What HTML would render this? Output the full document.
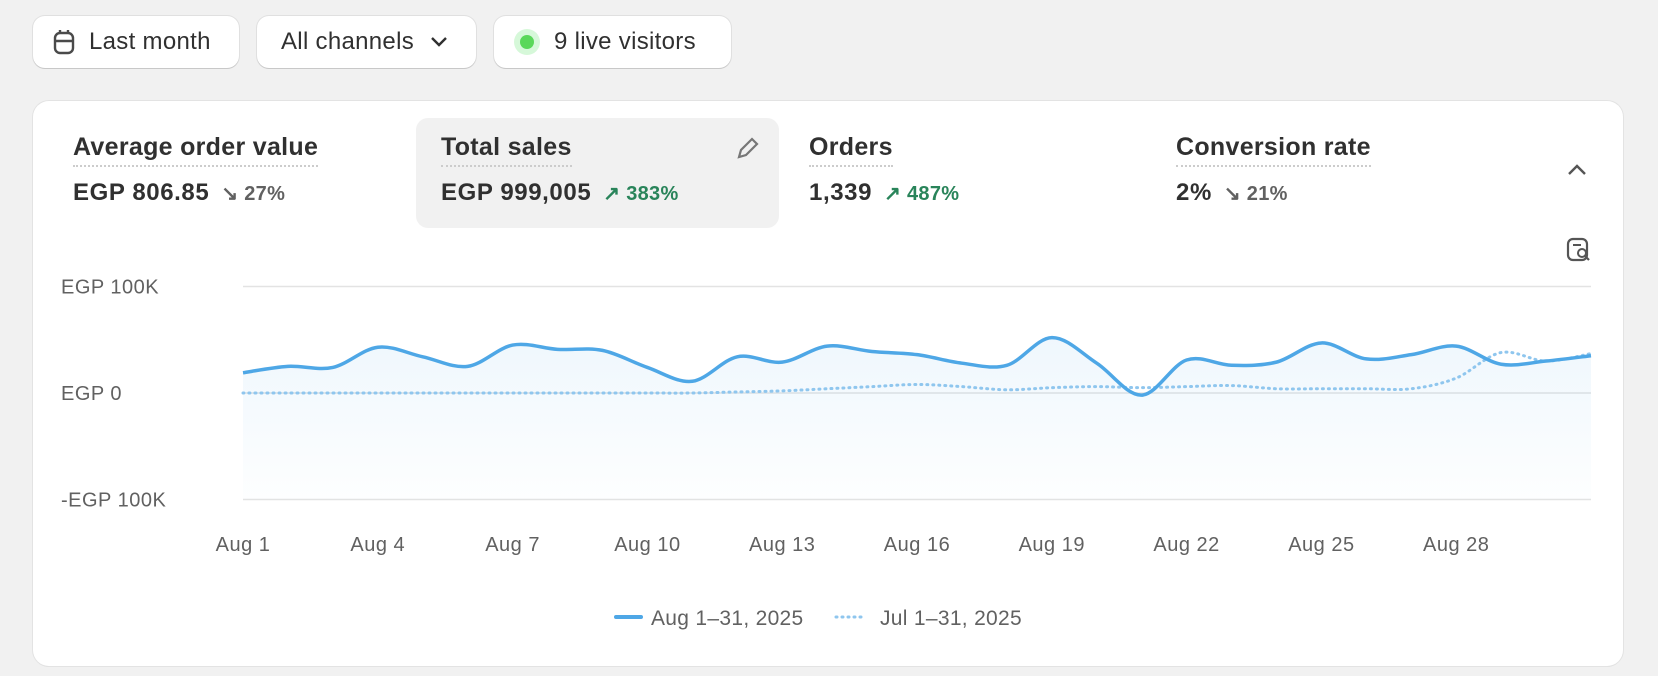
<!DOCTYPE html>
<html><head><meta charset="utf-8">
<style>
body{margin:0;width:1658px;height:676px;background:#f1f1f1;font-family:"Liberation Sans",sans-serif;color:#303030;position:relative;overflow:hidden}
.btn{position:absolute;top:16px;height:52px;background:#fff;border-radius:12px;box-shadow:0 1px 0 #c8c8c8,0 0 0 1px #e0e0e0;display:flex;align-items:center;font-size:24px;letter-spacing:0.3px;box-sizing:border-box;padding:0 20px}
.card{position:absolute;left:33px;top:101px;width:1590px;height:565px;background:#fff;border-radius:16px;box-shadow:0 0 0 1px #e3e3e3,0 1px 0 #d0d0d0}
.m{position:absolute}
.mt{font-size:25px;font-weight:bold;letter-spacing:0.3px;color:#303030;border-bottom:2px dotted #ccc;padding-bottom:3px;display:inline-block}
.mv{font-size:24px;font-weight:bold;letter-spacing:0.6px;margin-top:12px}
.mv span{font-size:20px;font-weight:bold;margin-left:12px;letter-spacing:0.3px}
.dn{color:#616161}.up{color:#29845a}
</style></head><body>
<div class="btn" style="left:33px;width:206px">
<svg width="22" height="26" viewBox="0 0 22 26" style="margin-right:14px"><rect x="2" y="4" width="18" height="20" rx="5" fill="none" stroke="#4a4a4a" stroke-width="2.4"/><line x1="2" y1="12" x2="20" y2="12" stroke="#4a4a4a" stroke-width="2.4"/><line x1="7" y1="1" x2="7" y2="5" stroke="#4a4a4a" stroke-width="2.4"/><line x1="15" y1="1" x2="15" y2="5" stroke="#4a4a4a" stroke-width="2.4"/></svg>Last month</div>
<div class="btn" style="left:257px;width:219px;padding-left:24px">All channels<svg width="18" height="12" style="margin-left:16px"><path d="M2 2l7 7 7-7" fill="none" stroke="#303030" stroke-width="2.4"/></svg></div>
<div class="btn" style="left:494px;width:237px">
<span style="width:26px;height:26px;border-radius:50%;background:#d6f8d9;display:inline-flex;align-items:center;justify-content:center;margin-right:14px"><span style="width:14px;height:14px;border-radius:50%;background:#5ad85a"></span></span>9 live visitors</div>

<div class="card">
<div style="position:absolute;left:383px;top:17px;width:363px;height:110px;background:#f1f1f1;border-radius:12px"></div>
<div class="m" style="left:40px;top:32px"><div class="mt">Average order value</div><div class="mv">EGP 806.85<span class="dn">↘ 27%</span></div></div>
<div class="m" style="left:408px;top:32px"><div class="mt">Total sales</div><div class="mv">EGP 999,005<span class="up">↗ 383%</span></div></div>
<svg style="position:absolute;left:700px;top:34px" width="28" height="28" viewBox="0 0 28 28"><path d="M6 22l2-7L19 4l5 5-11 11z" fill="none" stroke="#777" stroke-width="2.2"/></svg>
<div class="m" style="left:776px;top:32px"><div class="mt">Orders</div><div class="mv">1,339<span class="up">↗ 487%</span></div></div>
<div class="m" style="left:1143px;top:32px"><div class="mt">Conversion rate</div><div class="mv">2%<span class="dn">↘ 21%</span></div></div>
<svg style="position:absolute;left:1534px;top:62px" width="20" height="14"><path d="M2 11l8-8 8 8" fill="none" stroke="#555" stroke-width="2.4"/></svg>
<svg style="position:absolute;left:1533px;top:136px" width="26" height="26" viewBox="0 0 26 26"><rect x="2" y="2" width="19" height="21" rx="5" fill="none" stroke="#555" stroke-width="2.2"/><line x1="7" y1="8" x2="15" y2="8" stroke="#555" stroke-width="2"/><circle cx="16" cy="16" r="4" fill="#fff" stroke="#555" stroke-width="2"/><line x1="19" y1="19" x2="23" y2="23" stroke="#555" stroke-width="2.2"/></svg>
</div>

<svg id="chart" style="position:absolute;left:0;top:0" width="1658" height="676">
<defs><linearGradient id="g" x1="0" y1="0" x2="0" y2="1"><stop offset="0" stop-color="#4ea7e6" stop-opacity="0.09"/><stop offset="1" stop-color="#4ea7e6" stop-opacity="0.01"/></linearGradient></defs>
</svg>
<script>
const categories=["Aug 1","Aug 2","Aug 3","Aug 4","Aug 5","Aug 6","Aug 7","Aug 8","Aug 9","Aug 10","Aug 11","Aug 12","Aug 13","Aug 14","Aug 15","Aug 16","Aug 17","Aug 18","Aug 19","Aug 20","Aug 21","Aug 22","Aug 23","Aug 24","Aug 25","Aug 26","Aug 27","Aug 28","Aug 29","Aug 30","Aug 31"];
const currentSales=[19,25,24,43,34,25,45,41,40,24,11,34,29,44,39,36,28,26,52,28,-2,31,26,29,47,32,36,44,27,30,35];
const previousSales=[0,0,0,0,0,0,0,0,0,0,0,1,2,4,6,8,6,3,5,6,5,6,7,4,4,4,4,14,38,30,37];
const yTicks=[100,0,-100];
const yTickLabels=["EGP 100K","EGP 0","-EGP 100K"];
const xTickLabels=["Aug 1","Aug 4","Aug 7","Aug 10","Aug 13","Aug 16","Aug 19","Aug 22","Aug 25","Aug 28"];
const legendLabels=["Aug 1–31, 2025","Jul 1–31, 2025"];
const svg=document.getElementById('chart');const NS='http://www.w3.org/2000/svg';
const X0=243,X1=1591,Y0=393,YK=1.065;
const x=i=>X0+i*(X1-X0)/(categories.length-1);
const y=v=>Y0-v*YK;
function mk(t,a,txt){const e=document.createElementNS(NS,t);for(const k in a)e.setAttribute(k,a[k]);if(txt!=null)e.textContent=txt;svg.appendChild(e);return e;}
function path(vals){const p=vals.map((v,i)=>[x(i),y(v)]);let d='M'+p[0][0]+','+p[0][1];for(let i=0;i<p.length-1;i++){const a=p[i-1]||p[i],b=p[i],c=p[i+1],e=p[i+2]||c;d+=' C'+(b[0]+(c[0]-a[0])/6)+','+(b[1]+(c[1]-a[1])/6)+' '+(c[0]-(e[0]-b[0])/6)+','+(c[1]-(e[1]-b[1])/6)+' '+c[0]+','+c[1];}return d;}
yTicks.forEach((t,i)=>{const g=mk('line',{x1:X0,x2:X1,y1:y(t),y2:y(t),stroke:'#e3e3e3','stroke-width':1.5});
const l=mk('text',{x:61,y:y(t)+7,'font-size':20,'letter-spacing':0.5,fill:'#616161'},yTickLabels[i]);});
xTickLabels.forEach(lab=>{const i=categories.indexOf(lab);const t=mk('text',{x:x(i),y:551,'font-size':20,'letter-spacing':0.5,fill:'#616161','text-anchor':'middle'},lab);});
const area=mk('path',{d:path(currentSales)+' L'+X1+','+y(-100)+' L'+X0+','+y(-100)+'Z',fill:'url(#g)'});

const prev=mk('path',{d:path(previousSales),fill:'none',stroke:'#8fc6ee','stroke-width':3,'stroke-dasharray':'1 5','stroke-linecap':'round'});

const cur=mk('path',{d:path(currentSales),fill:'none',stroke:'#4ea7e6','stroke-width':3.5,'stroke-linejoin':'round'});

const l1=mk('line',{x1:616,x2:641,y1:617,y2:617,stroke:'#4ea7e6','stroke-width':4,'stroke-linecap':'round'});

const t1=mk('text',{x:651,y:625,'font-size':21,'letter-spacing':0.3,fill:'#616161'},legendLabels[0]);

const l2=mk('line',{x1:836,x2:866,y1:617,y2:617,stroke:'#8fc6ee','stroke-width':3,'stroke-dasharray':'1 5','stroke-linecap':'round'});

const t2=mk('text',{x:880,y:625,'font-size':21,'letter-spacing':0.3,fill:'#616161'},legendLabels[1]);

</script>
</body></html>
